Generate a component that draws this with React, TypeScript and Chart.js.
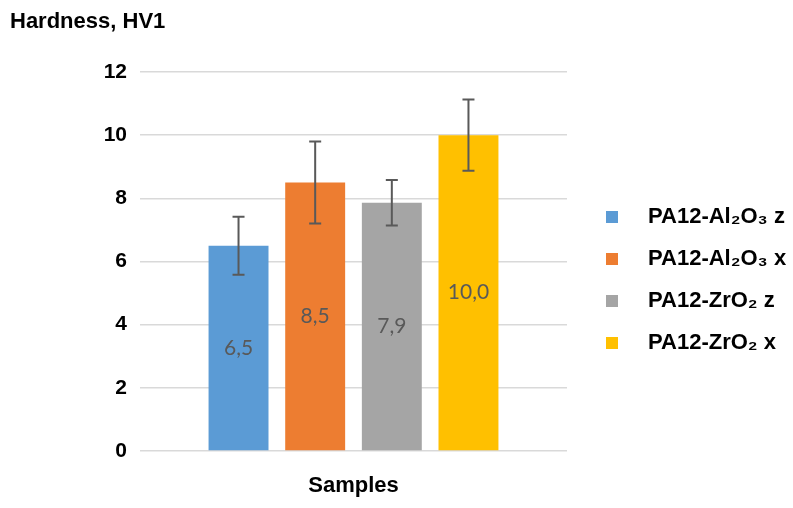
import React, { useEffect, useRef } from "react";
import { Chart, registerables } from "chart.js";

Chart.register(...registerables);

const categories = [""];
const seriesLabels = ["PA12-Al₂O₃ z", "PA12-Al₂O₃ x", "PA12-ZrO₂ z", "PA12-ZrO₂ x"];
const seriesValues = [6.5, 8.5, 7.86, 10.0];
const seriesErrors = [0.92, 1.3, 0.72, 1.13];
const seriesColors = ["#5B9BD5", "#ED7D31", "#A5A5A5", "#FFC000"];
const yTickValues = [0, 2, 4, 6, 8, 10, 12];
const yAxisTitle = "Hardness, HV1";
const xAxisTitle = "Samples";

const BOLD = "'Liberation Sans', Arial, sans-serif";

const extrasPlugin = {
  id: "extras",
  afterDatasetsDraw(chart: any) {
    const ctx = chart.ctx;
    const yScale = chart.scales.y;
    ctx.save();
    chart.data.datasets.forEach((ds: any, i: number) => {
      const meta = chart.getDatasetMeta(i);
      const bar = meta.data[0];
      if (!bar) return;
      const v = ds.data[0];
      const e = seriesErrors[i];
      // value label
      ctx.fillStyle = "#595959";
      ctx.font = "21px Lato, 'Open Sans', sans-serif";
      ctx.textAlign = "center";
      ctx.textBaseline = "middle";
      ctx.fillText(v.toFixed(1).replace(".", ","), bar.x, (bar.y + bar.base) / 2);
      // error bar
      const yt = yScale.getPixelForValue(v + e);
      const yb = yScale.getPixelForValue(v - e);
      ctx.strokeStyle = "#595959";
      ctx.lineWidth = 2;
      ctx.beginPath();
      ctx.moveTo(bar.x, yt);
      ctx.lineTo(bar.x, yb);
      ctx.moveTo(bar.x - 6, yt);
      ctx.lineTo(bar.x + 6, yt);
      ctx.moveTo(bar.x - 6, yb);
      ctx.lineTo(bar.x + 6, yb);
      ctx.stroke();
    });
    ctx.restore();
  },
  afterDraw(chart: any) {
    const ctx = chart.ctx;
    ctx.save();
    // axis title at top-left
    ctx.fillStyle = "#000";
    ctx.font = `bold 22px ${BOLD}`;
    ctx.textAlign = "left";
    ctx.textBaseline = "middle";
    ctx.fillText(yAxisTitle, 10, 22);
    // legend
    const startY = 217;
    const step = 42;
    chart.data.datasets.forEach((ds: any, i: number) => {
      const cy = startY + i * step;
      ctx.fillStyle = ds.backgroundColor;
      ctx.fillRect(606, cy - 6, 12, 12);
      ctx.fillStyle = "#000";
      ctx.font = `bold 22px ${BOLD}`;
      ctx.textAlign = "left";
      ctx.textBaseline = "middle";
      ctx.fillText(ds.label, 648, cy);
    });
    ctx.restore();
  },
};

export default function App() {
  const ref = useRef<HTMLCanvasElement>(null);
  useEffect(() => {
    if (!ref.current) return;
    const chart = new Chart(ref.current, {
      type: "bar",
      data: {
        labels: categories,
        datasets: seriesLabels.map((label, i) => ({
          label,
          data: [seriesValues[i]],
          backgroundColor: seriesColors[i],
          borderWidth: 0,
          categoryPercentage: 0.718,
          barPercentage: 0.782,
        })),
      },
      options: {
        responsive: false,
        animation: false,
        layout: { padding: { top: 72, right: 226, bottom: 0, left: 0 } },
        plugins: {
          legend: { display: false },
          title: { display: false },
          tooltip: { enabled: false },
        },
        scales: {
          x: {
            grid: { display: false },
            border: { display: false },
            ticks: { display: false },
            title: {
              display: true,
              text: xAxisTitle,
              color: "#000",
              font: { family: BOLD, size: 22, weight: "bold" },
              padding: { top: 0, bottom: 9 },
            },
            afterFit(scale: any) {
              scale.height = 57;
            },
          },
          y: {
            min: 0,
            max: 12,
            afterBuildTicks(scale: any) {
              scale.ticks = yTickValues.map((v) => ({ value: v }));
            },
            grid: { color: "#d9d9d9", lineWidth: 1.5, drawTicks: false },
            border: { display: false },
            ticks: {
              padding: 13,
              color: "#000",
              font: { family: BOLD, size: 21, weight: "bold" },
            },
            afterFit(scale: any) {
              scale.width = 140;
            },
          },
        },
      },
      plugins: [extrasPlugin],
    });
    return () => chart.destroy();
  }, []);
  return (
    <div style={{ position: "fixed", left: 0, top: 0, width: 793, height: 508, background: "#fff" }}>
      <canvas ref={ref} width={793} height={508} />
    </div>
  );
}
